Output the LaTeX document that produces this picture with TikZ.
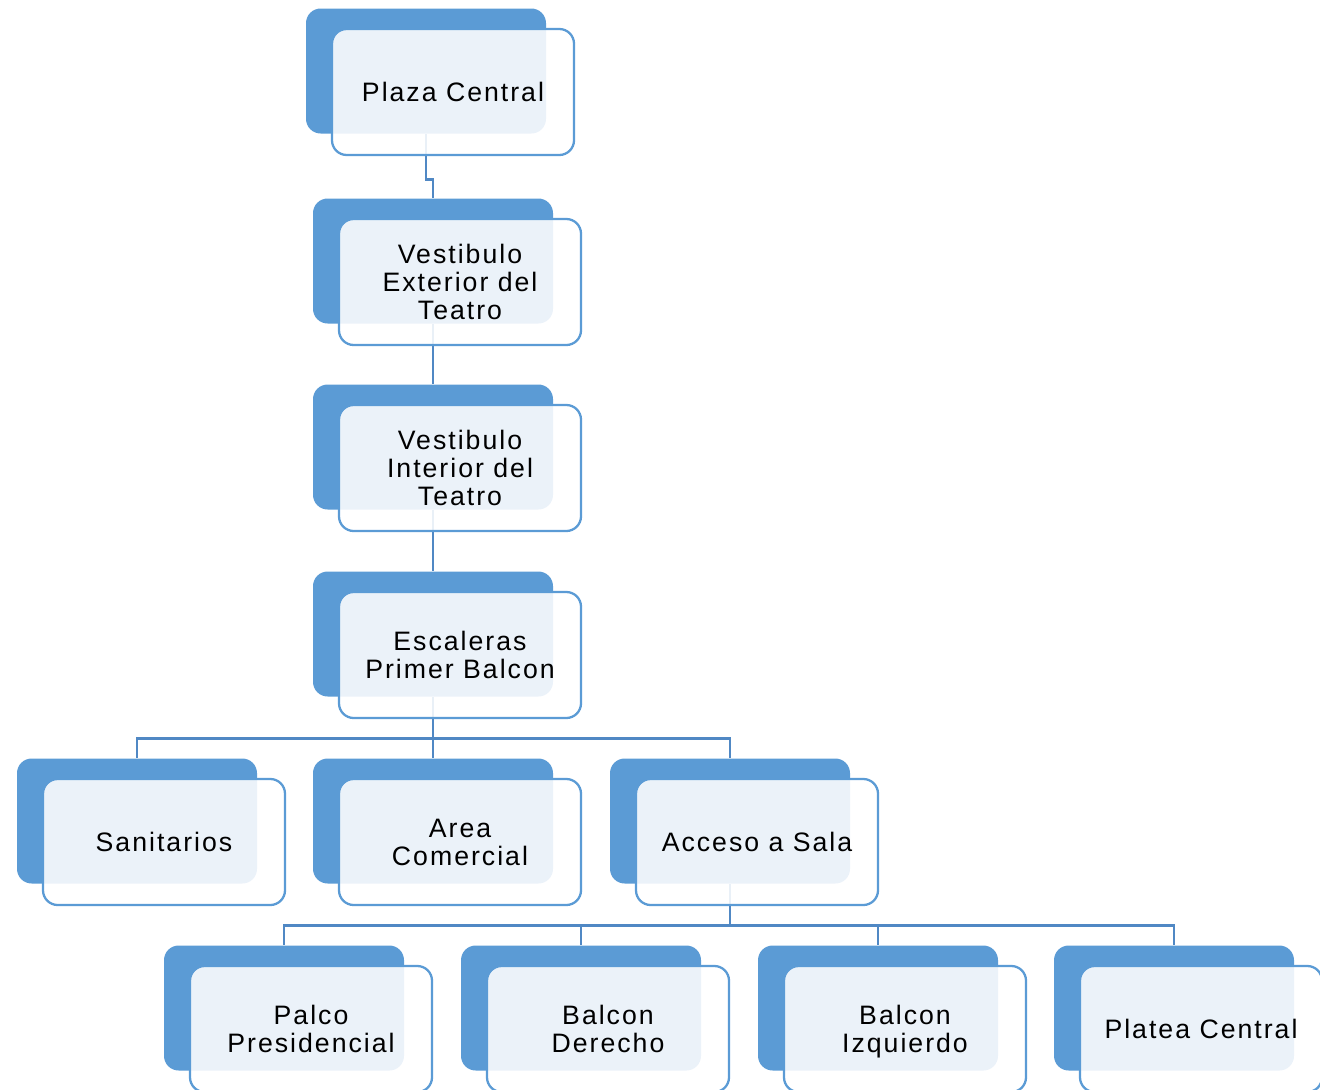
\documentclass[tikz,border=0pt]{standalone}
\usepackage{fontspec}
\setmainfont{Liberation Sans}[LetterSpace=7.5]
\definecolor{boxBlue}{HTML}{5B9BD5}
\definecolor{linkBlue}{HTML}{5088C4}

%% name / x / y (centre of the front box) / text
\newcommand\boxlist{
  1/453/92/{Plaza Central},
  2/460/282/{Vestibulo\\Exterior del\\Teatro},
  3/460/468/{Vestibulo\\Interior del\\Teatro},
  4/460/655/{Escaleras\\Primer Balcon},
  5/164/842/{Sanitarios},
  6/460/842/{Area\\Comercial},
  7/757/842/{Acceso a Sala},
  8/311/1029/{Palco\\Presidencial},
  9/608/1029/{Balcon\\Derecho},
  10/905/1029/{Balcon\\\smash{Izquierdo}},
  11/1201/1029/{Platea Central}}

\begin{document}
\begin{tikzpicture}
[x=0.75pt,y=-0.75pt,
  backDecorate/.style={shape=rectangle,rounded corners=11pt,fill=boxBlue,
    minimum width=180pt,minimum height=93.75pt,inner sep=0pt},
  frontDecorate/.style={shape=rectangle,rounded corners=11pt,draw=boxBlue,
    line width=1.7pt,fill=white,fill opacity=0.88,text opacity=1,
    minimum width=181.5pt,minimum height=94.5pt,inner sep=0pt,align=center,
    font=\fontsize{20}{21}\selectfont},
  lineDecorate/.style={-,draw=linkBlue,line width=2.1pt}]
\useasboundingbox (0,0) rectangle (1320,1089);
%% blue boxes behind
\foreach \nodename/\x/\y/\txt in \boxlist
{
  \node (\nodename b) at ({\x-27},{\y-21}) [backDecorate] {};
}
%% links
\draw[lineDecorate] (1b.south) -- ++(0,46) -| (2b.north);
\draw[lineDecorate] (2b.south) -- (3b.north);
\draw[lineDecorate] (3b.south) -- (4b.north);
\draw[lineDecorate] (4b.south) -- ++(0,42) coordinate (j1);
\draw[lineDecorate] (7b.south) -- ++(0,42) coordinate (j2);
\foreach \endnode in {5,6,7}
  \draw[lineDecorate] (j1) -| (\endnode b.north);
\foreach \endnode in {8,9,10,11}
  \draw[lineDecorate] (j2) -| (\endnode b.north);
%% light boxes with the text
\foreach \nodename/\x/\y/\txt in \boxlist
{
  \node (\nodename) at (\x,\y) [frontDecorate] {\txt};
}
\end{tikzpicture}
\end{document}
